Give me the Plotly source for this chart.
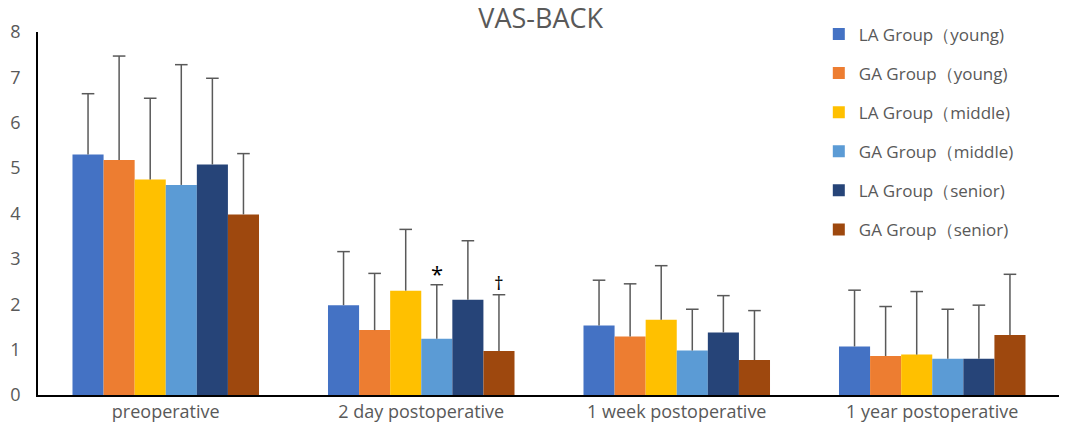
import plotly.graph_objects as go

# categories and series
stages = ["preoperative", "2 day postoperative", "1 week postoperative", "1 year postoperative"]
groups = ["LA Group（young)", "GA Group（young)", "LA Group（middle)",
          "GA Group（middle)", "LA Group（senior)", "GA Group（senior)"]
colors = ["#4472C4", "#ED7D31", "#FFC000", "#5B9BD5", "#264478", "#9E480E"]

# means per group (one value per stage)
la_young = [5.30, 1.98, 1.53, 1.07]
ga_young = [5.18, 1.43, 1.29, 0.86]
la_middle = [4.75, 2.30, 1.66, 0.89]
ga_middle = [4.63, 1.24, 0.98, 0.80]
la_senior = [5.08, 2.10, 1.38, 0.80]
ga_senior = [3.98, 0.97, 0.77, 1.32]

# standard deviations (upper error bar only)
la_young_sd = [1.34, 1.18, 1.00, 1.24]
ga_young_sd = [2.29, 1.25, 1.16, 1.09]
la_middle_sd = [1.79, 1.35, 1.19, 1.39]
ga_middle_sd = [2.65, 1.19, 0.91, 1.09]
la_senior_sd = [1.90, 1.30, 0.81, 1.18]
ga_senior_sd = [1.34, 1.24, 1.09, 1.34]

means = [la_young, ga_young, la_middle, ga_middle, la_senior, ga_senior]
sds = [la_young_sd, ga_young_sd, la_middle_sd, ga_middle_sd, la_senior_sd, ga_senior_sd]

font = "Open Sans"
grey = "#595959"
gap = 0.27

fig = go.Figure()
for name, col, m in zip(groups, colors, means):
    fig.add_trace(go.Bar(
        x=stages, y=m, name=name, legendgroup=name,
        marker=dict(color=col, line=dict(width=0)),
    ))

# error bars: a cap marker at mean+sd with a line down to the bar top
for name, m, s in zip(groups, means, sds):
    tops = [a + b for a, b in zip(m, s)]
    fig.add_trace(go.Scatter(
        x=stages, y=tops, mode="markers", legendgroup=name, showlegend=False,
        hoverinfo="skip",
        marker=dict(symbol="line-ew-open", size=9, color=grey,
                    line=dict(color=grey, width=1.5)),
        error_y=dict(type="data", symmetric=False, array=[0] * len(s), arrayminus=s,
                     color=grey, thickness=1.5, width=0),
    ))

# significance marks on 2 day postoperative
fig.add_annotation(x=stages[1], y=ga_middle[1] + ga_middle_sd[1], xref="x", yref="y",
                   text="*", showarrow=False, xshift=15.6, yshift=12,
                   font=dict(size=22, color="black", family=font))
fig.add_annotation(x=stages[1], y=ga_senior[1] + ga_senior_sd[1], xref="x", yref="y",
                   text="†", showarrow=False, xshift=77.8, yshift=12,
                   font=dict(size=19, color="black", family=font))

# the page body has an 8px margin, so the figure is a bit smaller
fig.update_layout(
    width=1059, height=426,
    margin=dict(l=30, r=7, t=24, b=39, autoexpand=False),
    paper_bgcolor="white", plot_bgcolor="white",
    barmode="group", bargap=gap, bargroupgap=0,
    scattermode="group", scattergap=gap,
    title=dict(text="VAS-BACK", x=0.503, xanchor="center", y=0.998, yanchor="top",
               font=dict(size=27, color=grey, family=font)),
    font=dict(family=font, color=grey, size=17),
    legend=dict(x=0.764, y=1.043, xanchor="left", yanchor="top",
                bgcolor="rgba(0,0,0,0)", tracegroupgap=14, maxheight=400,
                font=dict(size=17, color=grey, family=font)),
    yaxis=dict(range=[0, 8], dtick=1, showgrid=False, zeroline=False,
               showline=True, linecolor="black", linewidth=1.5, automargin=False,
               ticks="", ticklabelstandoff=12, tickfont=dict(size=18, color=grey)),
    xaxis=dict(showgrid=False, showline=True, linecolor="black", linewidth=1.5,
               automargin=False, ticks="", tickfont=dict(size=18, color=grey)),
)

fig.write_html("out.html")
